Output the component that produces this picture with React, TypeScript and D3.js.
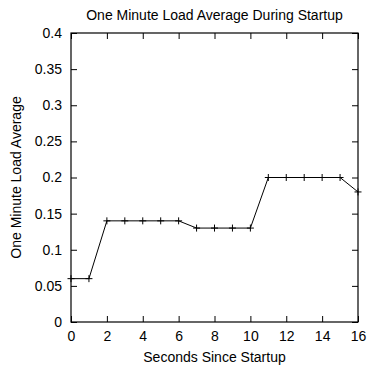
import { useEffect, useRef } from 'react';
import * as d3 from 'd3';

const seconds = [0, 1, 2, 3, 4, 5, 6, 7, 8, 9, 10, 11, 12, 13, 14, 15, 16];
const loadAvg = [0.06, 0.06, 0.14, 0.14, 0.14, 0.14, 0.14, 0.13, 0.13, 0.13, 0.13, 0.2, 0.2, 0.2, 0.2, 0.2, 0.18];
const xTicks = [0, 2, 4, 6, 8, 10, 12, 14, 16];
const yTicks = [0, 0.05, 0.1, 0.15, 0.2, 0.25, 0.3, 0.35, 0.4];

const TITLE = 'One Minute Load Average During Startup';
const X_LABEL = 'Seconds Since Startup';
const Y_LABEL = 'One Minute Load Average';

export default function App() {
  const svgRef = useRef<SVGSVGElement>(null);

  useEffect(() => {
    if (!svgRef.current) return;
    const width = 367;
    const height = 366;
    const margin = { top: 33, right: 9, bottom: 44, left: 71 };
    const W = width - margin.left - margin.right;
    const H = height - margin.top - margin.bottom;
    const font = '"Liberation Sans", Arial, Helvetica, sans-serif';

    const svg = d3.select(svgRef.current);
    svg.selectAll('*').remove();
    svg.attr('width', width).attr('height', height).style('display', 'block');

    const g = svg.append('g').attr('transform', `translate(${margin.left},${margin.top})`);

    const x = d3.scaleLinear().domain([0, 16]).range([0, W]);
    const y = d3.scaleLinear().domain([0, 0.4]).range([H, 0]);
    const tick = 6;

    // Ticks (mirrored on all sides, pointing inward)
    const styleAxis = (sel: d3.Selection<SVGGElement, unknown, null, undefined>) => {
      sel.select('.domain').remove();
      sel.selectAll('.tick line').attr('stroke', '#000').attr('stroke-width', 1);
      sel.selectAll('text').attr('fill', '#000').attr('font-size', 14).attr('font-family', font);
    };

    g.append('g')
      .attr('transform', `translate(0,${H})`)
      .call(d3.axisBottom(x).tickValues(xTicks).tickSize(-tick).tickPadding(9).tickFormat(d => `${d}`))
      .call(styleAxis);

    g.append('g')
      .call(d3.axisTop(x).tickValues(xTicks).tickSize(-tick).tickFormat(() => ''))
      .call(styleAxis);

    g.append('g')
      .call(d3.axisLeft(y).tickValues(yTicks).tickSize(-tick).tickPadding(9).tickFormat(d => `${+d}`))
      .call(styleAxis);

    g.append('g')
      .attr('transform', `translate(${W},0)`)
      .call(d3.axisRight(y).tickValues(yTicks).tickSize(-tick).tickFormat(() => ''))
      .call(styleAxis);

    // Frame
    g.append('rect')
      .attr('x', 0).attr('y', 0).attr('width', W).attr('height', H)
      .attr('fill', 'none').attr('stroke', '#000').attr('stroke-width', 1.2);

    // Data line
    const pts = seconds.map((s, i) => [s, loadAvg[i]] as [number, number]);
    const line = d3.line<[number, number]>().x(d => x(d[0])).y(d => y(d[1]));
    g.append('path')
      .datum(pts)
      .attr('fill', 'none')
      .attr('stroke', '#000')
      .attr('stroke-width', 1)
      .attr('d', line);

    // Plus markers
    const m = 3.5;
    g.append('g')
      .selectAll('path')
      .data(pts)
      .join('path')
      .attr('d', d => {
        const px = x(d[0]);
        const py = y(d[1]);
        return `M${px - m},${py}H${px + m}M${px},${py - m}V${py + m}`;
      })
      .attr('stroke', '#000')
      .attr('stroke-width', 1)
      .attr('fill', 'none');

    // Labels
    svg.append('text')
      .attr('x', margin.left + W / 2)
      .attr('y', 20)
      .attr('text-anchor', 'middle')
      .attr('font-family', font)
      .attr('font-size', 14)
      .text(TITLE);

    svg.append('text')
      .attr('x', margin.left + W / 2)
      .attr('y', 362)
      .attr('text-anchor', 'middle')
      .attr('font-family', font)
      .attr('font-size', 14)
      .text(X_LABEL);

    svg.append('text')
      .attr('transform', `translate(21,${margin.top + H / 2}) rotate(-90)`)
      .attr('text-anchor', 'middle')
      .attr('font-family', font)
      .attr('font-size', 14)
      .text(Y_LABEL);
  }, []);

  return (
    <div style={{ position: 'fixed', left: 0, top: 0, background: '#fff' }}>
      <svg ref={svgRef} />
    </div>
  );
}
